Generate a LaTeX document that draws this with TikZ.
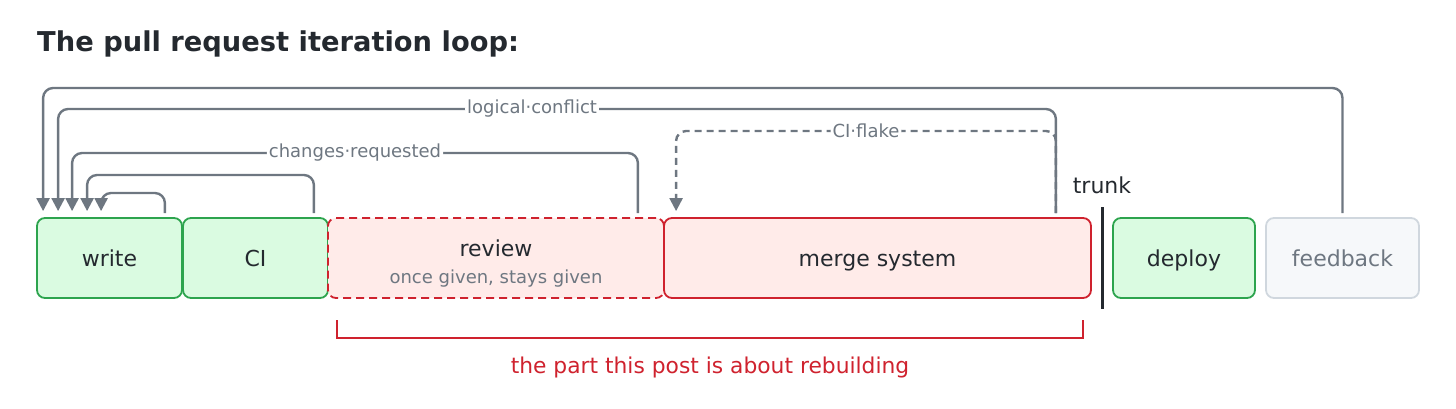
\documentclass[tikz,border=0pt]{standalone}
\usepackage{fontspec}
\setmainfont{DejaVu Sans}
\usetikzlibrary{arrows.meta}
\definecolor{txt}{HTML}{24292F}
\definecolor{muted}{HTML}{6E7781}
\definecolor{gfill}{HTML}{DAFBE1}
\definecolor{gline}{HTML}{2DA44E}
\definecolor{rfill}{HTML}{FFEBE9}
\definecolor{rline}{HTML}{CF222E}
\definecolor{nfill}{HTML}{F6F8FA}
\definecolor{nline}{HTML}{D0D7DE}
\tikzset{
  box/.style={rectangle, rounded corners=8pt, line width=1.8pt, minimum height=80pt,
    inner sep=0pt, text=txt, font=\fontsize{22pt}{26pt}\selectfont,
    text height=16.7pt, text depth=0pt},
  greenbox/.style={box, fill=gfill, draw=gline},
  redbox/.style={box, fill=rfill, draw=rline},
  greybox/.style={box, fill=nfill, draw=nline, text=muted},
  fb/.style={draw=muted, line width=2.4pt, rounded corners=10pt,
    -{Triangle[length=13pt,width=13pt]}},
  lbl/.style={fill=white, text=muted, inner sep=2pt, font=\fontsize{18pt}{21pt}\selectfont},
}
\begin{document}
\begin{tikzpicture}[x=1pt,y=-1pt]
\useasboundingbox (0,0) rectangle (1456,409);
% title
\node[anchor=base west, inner sep=0pt, text=txt, font=\fontsize{27.3pt}{32pt}\selectfont\bfseries] (title) at (37,52) {The pull request iteration loop:};
% boxes
\node[greenbox, minimum width=145pt] (write) at (109.5,258) {write};
\node[greenbox, minimum width=145pt] (ci) at (255.5,258) {CI};
\node[redbox, dash pattern=on 8pt off 5pt, minimum width=336pt] (review) at (496,258) {};
\node[anchor=base, inner sep=0pt, text=txt, font=\fontsize{22pt}{26pt}\selectfont] (reviewlbl) at ([yshift=2pt]review.center) {review};
\node[anchor=base, inner sep=0pt, text=muted, font=\fontsize{18pt}{21pt}\selectfont] (reviewsub) at ([yshift=-25pt]review.center) {once given, stays given};
\node[redbox, minimum width=427pt] (merge) at (877.5,258) {merge system};
\node[greenbox, minimum width=142pt] (deploy) at (1184,258) {deploy};
\node[greybox, minimum width=153pt] (feedback) at (1342.5,258) {feedback};
% trunk
\coordinate (tt) at (1102,207);
\coordinate (tb) at (1102,309);
\draw[txt, line width=3pt] (tt) -- (tb);
\node[text=txt, inner sep=0pt, font=\fontsize{22pt}{26pt}\selectfont] (trunk) at (1102,185) {trunk};
% end points of the loops
\coordinate (e1) at ([xshift=65pt,yshift=6pt]write.north west);
\coordinate (e2) at ([xshift=51pt,yshift=6pt]write.north west);
\coordinate (e3) at ([xshift=36pt,yshift=6pt]write.north west);
\coordinate (e4) at ([xshift=22pt,yshift=6pt]write.north west);
\coordinate (e5) at ([xshift=7pt,yshift=6pt]write.north west);
\coordinate (s1) at ([xshift=-18pt,yshift=4pt]write.north east);
\coordinate (s2) at ([xshift=-15pt,yshift=4pt]ci.north east);
\coordinate (s3) at ([xshift=-27pt,yshift=4pt]review.north east);
\coordinate (s4) at ([xshift=-36pt,yshift=4pt]merge.north east);
\coordinate (s5) at ([yshift=4pt]feedback.north);
\coordinate (ef) at ([xshift=13pt,yshift=6pt]merge.north west);
\coordinate (y1) at (0,193);
\coordinate (y2) at (0,175);
\coordinate (y3) at (0,153);
\coordinate (y4) at (0,109);
\coordinate (y5) at (0,88);
\coordinate (yf) at (0,131);
% loops
\draw[fb] (s5) -- (s5 |- y5) -- (e5 |- y5) -- (e5);
\draw[fb] (s4) -- (s4 |- y4) -- node[lbl, pos=0.525] (lc) {logical·conflict} (e4 |- y4) -- (e4);
\draw[fb] (s3) -- (s3 |- y3) -- node[lbl, pos=0.5] (cr) {changes·requested} (e3 |- y3) -- (e3);
\draw[fb] (s2) -- (s2 |- y2) -- (e2 |- y2) -- (e2);
\draw[fb] (s1) -- (s1 |- y1) -- (e1 |- y1) -- (e1);
\draw[fb, dash pattern=on 7pt off 5pt] (s4) -- (s4 |- yf) -- node[lbl, pos=0.5] (cf) {CI·flake} (ef |- yf) -- (ef);
% bracket
\coordinate (b1) at (337,320);
\coordinate (b2) at (337,338);
\coordinate (b3) at (1083,338);
\coordinate (b4) at (1083,320);
\draw[rline, line width=1.8pt] (b1) -- (b2) -- (b3) -- (b4);
\node[text=rline, inner sep=0pt, font=\fontsize{21.8pt}{26pt}\selectfont] (part) at (710,367) {the part this post is about rebuilding};
\end{tikzpicture}
\end{document}
